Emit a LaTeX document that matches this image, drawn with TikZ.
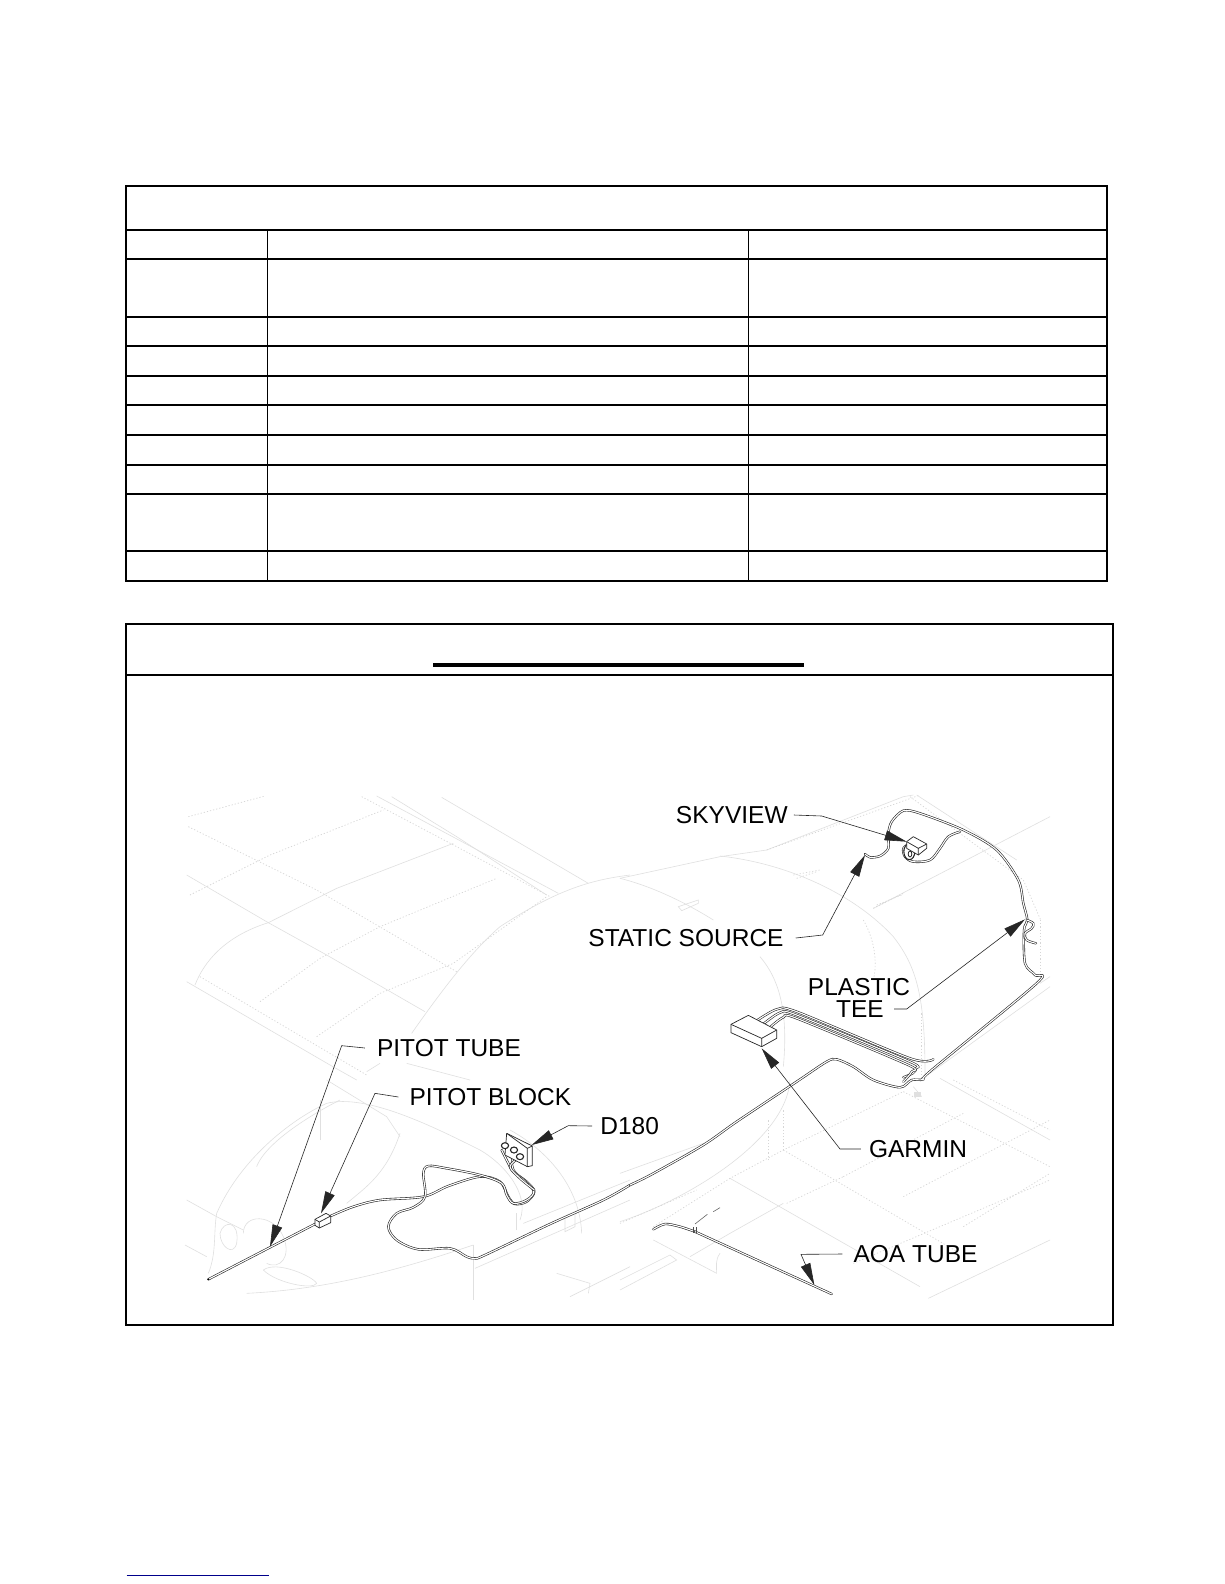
\documentclass[tikz,border=0pt]{standalone}
\usepackage{fontspec}
\setmainfont{Liberation Sans}
\usetikzlibrary{arrows.meta}
\tikzset{
  grid line/.style={draw=black,line width=2pt},
  thin grid/.style={draw=black,line width=1.7pt},
  callout/.style={font=\fontsize{24.5}{24.5}\selectfont,inner sep=0pt,text=black},
  leader/.style={draw=black!85,line width=.6pt,-{Triangle[length=22pt,width=10pt]}},
  tube/.style={draw=black!85,line width=.6pt,double=white,double distance=1.1pt,line join=round,line cap=round},
  ghost/.style={draw=black!12,line width=.6pt},
  ghostd/.style={draw=black!16,line width=.7pt,dash pattern=on 1.2pt off 2pt},
  part/.style={draw=black!85,line width=.7pt,fill=white,line join=round},
  zoomA/.style={shift={(180,1000)},x=.33333pt,y=-.33333pt},
  zoomB/.style={shift={(620,780)},x=.33333pt,y=-.33333pt},
}
\begin{document}
\begin{tikzpicture}[x=1pt,y=-1pt]
\useasboundingbox (0,0) rectangle (1224,1584);
\fill[white] (0,0) rectangle (1224,1584);
% ---- table frame
\draw[grid line] (126,185.7) rectangle (1106.8,581);
\foreach \yy in {230,258.7,316.7,345.7,375.7,404.7,434.7,464.7,493.7,550.7}
  \draw[grid line] (126,\yy) -- (1106.8,\yy);
\draw[thin grid] (267.5,230) -- (267.5,581);
\draw[thin grid] (748.4,230) -- (748.4,581);
% ---- figure frame
\draw[grid line] (126,623.7) rectangle (1112.7,1325);
\draw[grid line] (126,675) -- (1112.7,675);
\fill[black] (432.7,663) rectangle (803.9,667);
\draw[draw={rgb,255:red,0;green,0;blue,139},line width=1pt] (126.7,1575) -- (269,1575);
% ---- faint airframe, left half (zoom A coordinates)
\begin{scope}[zoomA]
 % left wing
 \draw[ghost] (45,-45) .. controls (70,-110) and (130,-190) .. (265,-232) -- (470,-335) -- (820,-470);
 \draw[ghost] (20,-55) -- (450,195) -- (530,240);
 \draw[ghost] (20,-375) -- (265,-232) -- (440,-135) -- (735,35);
 \draw[ghostd] (30,-315) -- (270,-435) -- (610,-570);
 \draw[ghostd] (25,-550) -- (255,-612);
 \draw[ghostd] (25,-520) -- (410,-330) -- (830,-85);
 \draw[ghostd] (545,-610) -- (830,-460) -- (1110,-310);
 \draw[ghost] (590,-612) -- (1135,-320);
 \draw[ghost] (635,-610) -- (830,-490) -- (1100,-315);
 \draw[ghost] (785,-608) -- (1225,-350);
 \draw[ghostd] (240,5) -- (420,-125) -- (600,-220) -- (950,-365);
 \draw[ghostd] (410,110) -- (600,-20) -- (820,-110) -- (1100,-310);
 \draw[ghostd] (60,-70) -- (560,225);
 \draw[ghost] (1350,-375) .. controls (1230,-360) and (1130,-330) .. (960,-220) .. controls (880,-150) and (800,-50) .. (695,100);
 % nose and cowl
 \draw[ghost] (85,820) .. controls (110,760) and (100,700) .. (110,640) .. controls (180,480) and (330,360) .. (440,310);
 \draw[ghost] (440,310) .. controls (560,280) and (760,380) .. (900,450) .. controls (970,490) and (1050,580) .. (1020,660);
 \draw[ghost] (990,390) .. controls (1100,450) and (1200,560) .. (1205,700);
 \draw[ghost] (560,215) -- (600,190);
 \draw[ghost] (680,190) -- (870,240);
 \draw[ghost] (440,240) -- (620,350) -- (660,410);
 \draw[ghost] (120,700) .. controls (130,660) and (180,660) .. (170,730) .. controls (160,770) and (120,740) .. (120,700);
 \draw[ghost] (190,700) .. controls (190,640) and (280,640) .. (310,710) .. controls (335,770) and (300,810) .. (260,790);
 \draw[ghost] (250,810) .. controls (290,780) and (400,830) .. (410,850) .. controls (400,870) and (290,850) .. (250,810);
 \draw[ghost] (110,650) -- (190,690);
 \draw[ghost] (20,600) -- (110,650);
 \draw[ghost] (660,400) .. controls (620,520) and (560,560) .. (500,610);
 \draw[ghost] (200,880) .. controls (400,870) and (600,830) .. (880,735);
 \draw[ghost] (880,735) -- (880,900);
 \draw[ghost] (1030,670) -- (1350,540);
 \draw[ghost] (885,805) -- (1350,600);
 \draw[ghost] (1010,690) -- (1010,640);
 \draw[ghost] (1155,650) -- (1155,695) -- (1185,680) -- (1185,635);
 \draw[ghost] (1130,820) -- (1230,850) -- (1225,880);
 \draw[ghost] (1170,890) -- (1350,800);
 \draw[ghost] (15,735) -- (80,770);
 \draw[ghost] (420,420) -- (420,300);
 \draw[ghost] (480,300) .. controls (420,330) and (260,420) .. (230,500);
\end{scope}
% ---- faint airframe, right half (zoom B coordinates)
\begin{scope}[zoomB]
 \draw[ghost] (0,295) -- (300,230) -- (440,210) -- (850,50) -- (880,45);
 \draw[ghost] (0,295) .. controls (100,320) and (200,370) .. (280,420);
 \draw[ghost] (300,228) .. controls (500,250) and (700,340) .. (820,470) .. controls (890,560) and (915,650) .. (915,880);
 \draw[ghost] (420,530) .. controls (480,600) and (505,700) .. (490,860);
 \draw[ghost] (760,385) -- (1290,110);
 \draw[ghostd] (440,210) -- (900,45);
 \draw[ghostd] (520,285) -- (600,270);
 \draw[ghostd] (530,295) -- (590,275);
 \draw[ghostd] (760,385) -- (850,340);
 \draw[ghostd] (770,375) -- (845,345);
 \draw[ghost] (175,380) -- (235,360) -- (235,370) -- (185,392) -- cycle;
 \draw[ghostd] (730,420) .. controls (770,490) and (770,560) .. (760,600);
 \draw[ghostd] (870,50) -- (1210,300) -- (1262,420);
 \draw[ghostd] (1262,420) -- (1262,600);
 \draw[ghost] (890,45) -- (1190,240);
 \draw[ghost] (1260,610) -- (1290,590);
 \draw[ghost] (930,880) -- (1290,620);
 \draw[ghostd] (905,700) -- (905,900);
 % tail and right stabiliser (y = zoom y + 780)
 \draw[ghost] (960,895) -- (1290,1080);
 \draw[ghostd] (850,935) -- (1290,1160);
 \draw[ghostd] (1000,900) -- (1290,1050);
 \draw[ghostd] (490,1110) -- (1020,1420);
 \draw[ghost] (330,1195) -- (900,1520);
 \draw[ghostd] (670,1190) -- (1030,1000);
 \draw[ghostd] (850,1250) -- (1290,1020);
 \draw[ghostd] (1030,1340) -- (1290,1180);
 \draw[ghostd] (490,1110) -- (490,990);
 \draw[ghostd] (445,1140) -- (445,1020);
 \draw[ghostd] (100,1340) -- (330,1195) -- (490,1110) -- (850,935);
 \draw[ghost] (0,1325) .. controls (200,1260) and (500,1080) .. (510,900);
 \draw[ghost] (0,1180) -- (250,1090);
 \draw[ghostd] (0,1330) -- (230,1230);
 \draw[ghost] (490,1270) -- (330,1360) -- (210,1430);
 \draw[ghostd] (500,1270) -- (670,1190);
 \draw[ghost] (100,1380) -- (290,1480);
 \draw[ghost] (300,1420) .. controls (285,1440) and (290,1460) .. (290,1480);
 \draw[ghost] (1290,1380) -- (925,1555);
 \draw[ghostd] (700,1450) -- (1290,1200);
 \draw[ghost] (0,1500) -- (150,1425) -- (170,1440) -- (0,1530);
 \draw[ghost] (880,920) -- (905,950);
 \fill[black!12] (882,935) rectangle (902,952);
\end{scope}
% ---- tubing, left half
\begin{scope}[zoomA]
 \draw[tube] (85,838) -- (405,672);
 \fill[black] (85,838) circle (1pt);
 \draw[tube] plot[smooth,tension=.55] coordinates {(452,648) (520,620) (600,600) (730,590) (805,558) (900,530) (960,545) (985,590) (1005,612) (1040,605) (1063,575) (1040,545) (1000,515) (985,490) (965,450)};
 \draw[tube] plot[smooth,tension=.55] coordinates {(1000,465) (1000,510) (1060,570) (1040,600) (1000,610) (980,585) (965,550) (900,525) (800,505) (745,498) (730,520) (735,590) (700,622) (650,640) (625,680) (650,720) (715,748) (810,745) (860,770) (885,775) (915,765) (1110,672) (1270,600) (1350,555)};
 \draw[tube] plot[smooth,tension=.55] coordinates {(1015,475) (990,500) (1020,535) (1063,570)};
 % pitot block
 \draw[part] (405,658) -- (438,640) -- (452,648) -- (452,668) -- (418,684) -- (405,676) -- cycle;
 \draw[part] (405,658) -- (418,666) -- (452,648) (418,666) -- (418,684);
 % D180 back
 \draw[part] (980,400) -- (1057,438) -- (1057,497) -- (1042,500) -- (975,465) -- cycle;
 \draw[part] (1042,445) -- (1057,438) (1042,445) -- (1042,500);
 \draw[part] (980,400) -- (1042,445);
 \foreach \fx/\fy in {975/437,1002/450,1020/470}
   \draw[part,line width=1.1pt] (\fx,\fy) ellipse (3.6pt and 3pt);
 \coordinate (tipPitot) at (270,740);
 \coordinate (elbPitot) at (485,137);
 \coordinate (tipBlock) at (423,640);
 \coordinate (elbBlock) at (585,280);
 \coordinate (tipDial) at (1055,435);
 \coordinate (elbDial) at (1165,377);
\end{scope}
% ---- tubing, right half
\begin{scope}[zoomB]
 \draw[tube] plot[smooth,tension=.5] coordinates {(30,1215) (95,1183) (250,1095) (350,1025) (530,905) (620,845) (650,838) (700,860) (760,900) (840,922) (875,900) (910,898) (935,870) (1250,610) (1245,585) (1215,550) (1212,450) (1222,420) (1210,370) (1195,300) (1130,210) (1030,150) (900,100) (850,92) (815,125) (805,160) (805,205) (780,228) (750,232) (735,222)};
 \draw[tube] plot[smooth,tension=.55] coordinates {(1020,155) (985,170) (960,205) (930,240) (880,245) (855,230) (850,205) (870,190)};
 \draw[tube] plot[smooth,tension=.6] coordinates {(1220,420) (1240,430) (1235,445) (1215,460) (1220,480) (1248,490)};
 % Garmin harness
 \draw[tube] plot[smooth,tension=.45] coordinates {(410,722) (470,688) (530,695) (870,835) (940,838)};
 \draw[tube] plot[smooth,tension=.45] coordinates {(430,732) (480,698) (530,705) (870,845) (888,865) (878,880) (850,892)};
 \draw[tube] plot[smooth,tension=.45] coordinates {(450,742) (490,712) (530,715) (865,855) (875,875) (850,905)};
 \draw[part] (333,733) -- (385,706) -- (470,750) -- (470,775) -- (425,800) -- (333,758) -- cycle;
 \draw[part] (333,733) -- (425,775) -- (470,750) (425,775) -- (425,800);
 % Skyview
 \draw[part,line width=1.1pt] (868,215) ellipse (5.5pt and 8pt);
 \draw[part,line width=.8pt] (876,205) ellipse (1.8pt and 3pt);
 \draw[part,line width=.8pt] (870,222) ellipse (1.8pt and 3pt);
 \draw[part] (860,185) -- (880,170) -- (920,192) -- (920,205) -- (895,225) -- (860,205) -- cycle;
 \draw[part] (860,185) -- (895,205) -- (920,192) (895,205) -- (895,225);
 % AOA tube (y = zoom y + 780)
 \draw[tube] plot[smooth,tension=.5] coordinates {(100,1348) (135,1332) (180,1340) (225,1355)};
 \draw[tube] (225,1355) -- (635,1542);
 \draw[draw=black!70,line width=.6pt] (220,1358) -- (220,1340) (228,1358) -- (228,1340);
 \draw[draw=black!60,line width=.6pt] (225,1332) -- (262,1303) (280,1295) -- (300,1283);
 \coordinate (tipSky) at (860,185);
 \coordinate (elbSky) at (605,108);
 \coordinate (tipStatic) at (735,225);
 \coordinate (elbStatic) at (608,465);
 \coordinate (tipTee) at (1215,418);
 \coordinate (elbTee) at (860,687);
 \coordinate (tipGarmin) at (425,805);
 \coordinate (elbGarmin) at (660,1107);
 \coordinate (tipAoa) at (583,1515);
 \coordinate (elbAoa) at (543,1423);
\end{scope}
% ---- callouts
\node[callout,anchor=center] (lblSky) at (731.8,815) {SKYVIEW};
\node[callout,anchor=center] (lblStatic) at (686,938) {STATIC SOURCE};
\node[callout,anchor=center] (lblPlastic) at (859,987) {PLASTIC};
\node[callout,anchor=center] (lblTee) at (860,1009) {TEE};
\node[callout,anchor=center] (lblGarmin) at (918,1149) {GARMIN};
\node[callout,anchor=center] (lblAoa) at (915.5,1254) {AOA TUBE};
\node[callout,anchor=center] (lblDial) at (629.7,1126) {D180};
\node[callout,anchor=center] (lblPitot) at (449,1048) {PITOT TUBE};
\node[callout,anchor=center] (lblBlock) at (490.4,1097) {PITOT BLOCK};
% ---- leaders
\draw[leader] ([xshift=-12pt]lblPitot.west) -- (elbPitot) -- (tipPitot);
\draw[leader] ([xshift=-11pt]lblBlock.west) -- (elbBlock) -- (tipBlock);
\draw[leader] ([xshift=-8pt]lblDial.west) -- (elbDial) -- (tipDial);
\draw[leader] ([xshift=6pt]lblSky.east) -- (elbSky) -- (tipSky);
\draw[leader] ([xshift=12pt]lblStatic.east) -- (elbStatic) -- (tipStatic);
\draw[leader] ([xshift=10pt]lblTee.east) -- (elbTee) -- (tipTee);
\draw[leader] ([xshift=-8pt]lblGarmin.west) -- (elbGarmin) -- (tipGarmin);
\draw[leader] ([xshift=-11pt]lblAoa.west) -- (elbAoa) -- (tipAoa);
\end{tikzpicture}
\end{document}
